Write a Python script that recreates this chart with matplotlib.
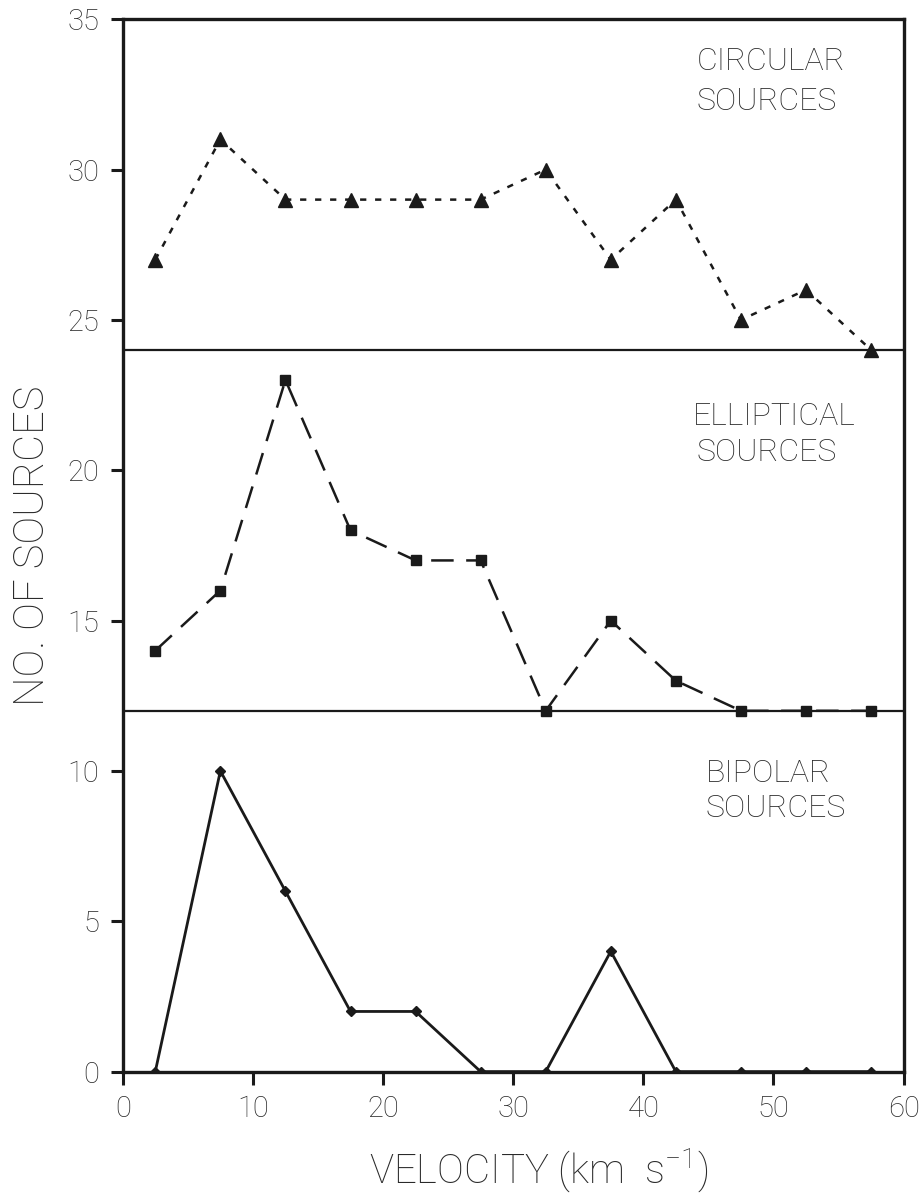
import matplotlib
matplotlib.use("Agg")
import matplotlib.pyplot as plt

# velocity bins (centres, km/s)
velocity = [2.5, 7.5, 12.5, 17.5, 22.5, 27.5, 32.5, 37.5, 42.5, 47.5, 52.5, 57.5]

# stacked counts, each panel offset on the same axis
circular = [27, 31, 29, 29, 29, 29, 30, 27, 29, 25, 26, 24]
elliptical = [14, 16, 23, 18, 17, 17, 12, 15, 13, 12, 12, 12]
bipolar = [0, 10, 6, 2, 2, 0, 0, 4, 0, 0, 0, 0]

panel_bases = [24, 12]
x_ticks = [0, 10, 20, 30, 40, 50, 60]
y_ticks = [0, 5, 10, 15, 20, 25, 30, 35]

plt.rcParams['font.family'] = ['Roboto', 'DejaVu Sans']
plt.rcParams['font.weight'] = 'light'
plt.rcParams['mathtext.fontset'] = 'custom'
plt.rcParams['mathtext.rm'] = 'Roboto:light'

fig = plt.figure(figsize=(9.23, 12), dpi=100)
ax = fig.add_axes([0.133, 0.107, 0.846, 0.877])

ink = '#1a1a1a'
txt = '#2a2a2a'
ax.plot(velocity, circular, color=ink, lw=1.8, ls=(0, (2.5, 3.5)),
        marker='^', ms=10, mfc=ink, mec=ink)
ax.plot(velocity, elliptical, color=ink, lw=1.8, ls=(0, (9, 5)),
        marker='s', ms=7, mfc=ink, mec=ink)
ax.plot(velocity, bipolar, color=ink, lw=2.0, ls='-',
        marker='D', ms=5, mfc=ink, mec=ink)

for base in panel_bases:
    ax.axhline(base, color=ink, lw=1.6, zorder=1)

fs = 23
ax.text(44.1, 33.6, 'CIRCULAR', fontsize=fs, va='center', ha='left', color=txt)
ax.text(44.1, 32.25, 'SOURCES', fontsize=fs, va='center', ha='left', color=txt)
ax.text(43.8, 21.8, 'ELLIPTICAL', fontsize=fs, va='center', ha='left', color=txt)
ax.text(44.1, 20.6, 'SOURCES', fontsize=fs, va='center', ha='left', color=txt)
ax.text(44.8, 9.9, 'BIPOLAR', fontsize=fs, va='center', ha='left', color=txt)
ax.text(44.8, 8.75, 'SOURCES', fontsize=fs, va='center', ha='left', color=txt)

ax.set_xlim(0, 60)
ax.set_ylim(0, 35)
ax.set_xticks(x_ticks)
ax.set_yticks(y_ticks)
ax.tick_params(direction='out', length=9, width=2.2, labelsize=21,
               colors=ink, labelcolor=txt, pad=8)
for s in ax.spines.values():
    s.set_linewidth(2.4)
    s.set_color(ink)

ax.set_xlabel(r'VELOCITY (km  s$^{\mathregular{-1}}$)', fontsize=29, labelpad=16,
              color=txt, fontweight='light')
ax.xaxis.label.set_x(0.532)
ax.set_ylabel('NO. OF SOURCES', fontsize=30, labelpad=10, color=txt, fontweight='light')

fig.savefig('out.png', dpi=100)
